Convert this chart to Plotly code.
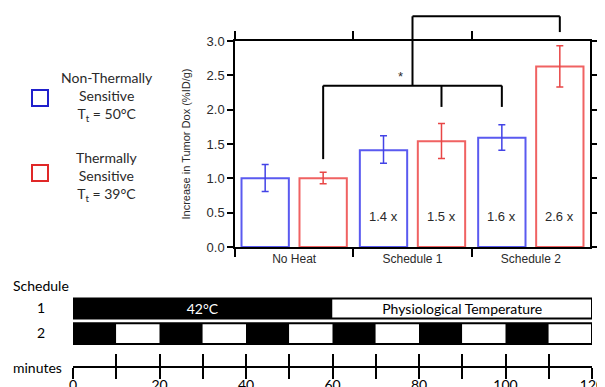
import plotly.graph_objects as go

# ---------------- data ----------------
categories = ["No Heat", "Schedule 1", "Schedule 2"]
nts_values = [1.00, 1.41, 1.59]      # Non-thermally sensitive (blue)
nts_upper = [1.20, 1.62, 1.78]
nts_lower = [0.81, 1.22, 1.41]
ts_values = [1.00, 1.54, 2.63]       # Thermally sensitive (red)
ts_upper = [1.09, 1.80, 2.93]
ts_lower = [0.92, 1.29, 2.33]
nts_fold = ["", "1.4 x", "1.6 x"]
ts_fold = ["", "1.5 x", "2.6 x"]
y_ticks = [0.0, 0.5, 1.0, 1.5, 2.0, 2.5, 3.0]

sched_rows = [2, 1]
sched_row_labels = ["1", "2"]
sched1_start = [0, 60]
sched1_end = [60, 120]
sched1_heated = [True, False]
sched1_text = ["42°C", "Physiological Temperature"]
sched2_start = [0, 10, 20, 30, 40, 50, 60, 70, 80, 90, 100, 110]
sched2_end = [10, 20, 30, 40, 50, 60, 70, 80, 90, 100, 110, 120]
sched2_heated = [True, False, True, False, True, False, True, False, True, False, True, False]
minute_ticks = [0, 10, 20, 30, 40, 50, 60, 70, 80, 90, 100, 110, 120]
minute_labels = ["0", "", "20", "", "40", "", "60", "", "80", "", "100", "", "120"]

# ---------------- styling helpers ----------------
# the page body has an 8px margin, so the figure is 8px smaller and all
# window-pixel positions are shifted by 8px
PAD = 8
W, H = 605 - PAD, 387 - PAD
def px(x):
    return (x - PAD) / W
def py(y):
    return 1 - (y - PAD) / H

BLUE = "#5a5af0"
BLUE_ERR = "#4343e6"
RED = "#f06262"
RED_ERR = "#e84646"
LEG_BLUE = "#2020cc"
LEG_RED = "#e02828"
ARIAL = "Arial, Liberation Sans, sans-serif"
CALIBRI = "Lato, Open Sans, sans-serif"
TXT = "#2a2a2a"

BAR_W = 0.40
OFF = 0.245  # half distance between bar centres in a group

fig = go.Figure()

# ---------------- main bars ----------------
fig.add_trace(go.Bar(
    x=categories, y=nts_values, width=BAR_W, offset=-OFF - BAR_W / 2,
    marker=dict(color="white", line=dict(color=BLUE, width=2)),
    error_y=dict(type="data", symmetric=False,
                 array=[u - v for u, v in zip(nts_upper, nts_values)],
                 arrayminus=[v - l for v, l in zip(nts_values, nts_lower)],
                 color=BLUE_ERR, thickness=1.5, width=3.5),
    xaxis="x", yaxis="y", showlegend=False, hoverinfo="skip"))
fig.add_trace(go.Bar(
    x=categories, y=ts_values, width=BAR_W, offset=OFF - BAR_W / 2,
    marker=dict(color="white", line=dict(color=RED, width=2)),
    error_y=dict(type="data", symmetric=False,
                 array=[u - v for u, v in zip(ts_upper, ts_values)],
                 arrayminus=[v - l for v, l in zip(ts_values, ts_lower)],
                 color=RED_ERR, thickness=1.5, width=3.5),
    xaxis="x", yaxis="y", showlegend=False, hoverinfo="skip"))

# overlay subplot (same scale, taller) for brackets and labels
Y_TOP_PX = 9
y2_max = 3.0 * (247 - Y_TOP_PX) / (247 - 41)
fig.add_trace(go.Scatter(x=[0], y=[0], mode="markers", marker=dict(opacity=0),
                         xaxis="x2", yaxis="y2", showlegend=False, hoverinfo="skip"))

# fold labels
for i, lab in enumerate(nts_fold):
    if lab:
        fig.add_annotation(x=i - OFF, y=0.45, xref="x2", yref="y2", text=lab,
                           showarrow=False, font=dict(family=ARIAL, size=13, color=TXT))
for i, lab in enumerate(ts_fold):
    if lab:
        fig.add_annotation(x=i + OFF, y=0.45, xref="x2", yref="y2", text=lab,
                           showarrow=False, font=dict(family=ARIAL, size=13, color=TXT))

# significance brackets
segs = [
    ((0 + OFF, 1.28), (0 + OFF, 2.35)),
    ((0 + OFF, 2.35), (2 - OFF, 2.35)),
    ((1 + OFF, 2.35), (1 + OFF, 2.04)),
    ((2 - OFF, 2.35), (2 - OFF, 2.04)),
    ((1.0, 2.35), (1.0, 3.36)),
    ((1.0, 3.36), (2 + OFF, 3.36)),
    ((2 + OFF, 3.36), (2 + OFF, 3.13)),
]
for (x0, y0), (x1, y1) in segs:
    fig.add_shape(type="line", xref="x2", yref="y2", x0=x0, y0=y0, x1=x1, y1=y1,
                  line=dict(color="black", width=2))
fig.add_annotation(x=0.9, y=2.48, xref="x2", yref="y2", text="*", showarrow=False,
                   font=dict(family=ARIAL, size=13, color=TXT))

# ---------------- schedule bars ----------------
fig.add_trace(go.Bar(
    y=[sched_rows[0]] * len(sched1_start),
    x=[e - s for s, e in zip(sched1_start, sched1_end)], base=sched1_start,
    orientation="h", width=0.8,
    marker=dict(color=["black" if h else "white" for h in sched1_heated], line=dict(width=0)),
    text=sched1_text, textposition="inside", insidetextanchor="middle",
    constraintext="none", textangle=0,
    textfont=dict(family=CALIBRI, size=14, color=["white" if h else "black" for h in sched1_heated]),
    xaxis="x3", yaxis="y3", showlegend=False, hoverinfo="skip"))
fig.add_trace(go.Bar(
    y=[sched_rows[1]] * len(sched2_start),
    x=[e - s for s, e in zip(sched2_start, sched2_end)], base=sched2_start,
    orientation="h", width=0.83,
    marker=dict(color=["black" if h else "white" for h in sched2_heated], line=dict(width=0)),
    xaxis="x3", yaxis="y3", showlegend=False, hoverinfo="skip"))
fig.add_trace(go.Bar(
    y=sched_rows, x=[sched1_end[-1] - sched1_start[0], sched2_end[-1] - sched2_start[0]],
    base=[sched1_start[0], sched2_start[0]], orientation="h", width=[0.8, 0.83],
    marker=dict(color="rgba(0,0,0,0)", line=dict(color="black", width=2)),
    xaxis="x3", yaxis="y3", showlegend=False, hoverinfo="skip"))
fig.add_trace(go.Scatter(x=[0], y=[0], mode="markers", marker=dict(opacity=0),
                         xaxis="x4", yaxis="y3", showlegend=False, hoverinfo="skip"))

# ---------------- layout ----------------
MIN_AX_Y = py(367)
fig.update_layout(
    width=W, height=H, autosize=False,
    margin=dict(l=0, r=0, t=0, b=0, autoexpand=False),
    paper_bgcolor="white", plot_bgcolor="rgba(0,0,0,0)",
    barmode="overlay", showlegend=False,
    xaxis=dict(domain=[px(235), px(590)], anchor="y", type="category", range=[-0.5, 2.5],
               showline=True, linecolor="black", linewidth=1.5, mirror="ticks",
               ticks="outside", tickson="boundaries", ticklen=8, tickwidth=1.5, tickcolor="black",
               showgrid=False, automargin=False, tickfont=dict(family=ARIAL, size=12, color=TXT)),
    yaxis=dict(domain=[py(247), py(41)], anchor="x", range=[0, 3.0],
               tickvals=y_ticks, tickformat=".1f",
               showline=True, linecolor="black", linewidth=1.5, mirror="ticks",
               ticks="outside", ticklen=6, tickwidth=1.5, tickcolor="black",
               showgrid=False, zeroline=False, automargin=False,
               tickfont=dict(family=ARIAL, size=13, color=TXT),
               title=dict(text="Increase in Tumor Dox (%ID/g)", standoff=14,
                          font=dict(family=ARIAL, size=11, color=TXT))),
    xaxis2=dict(domain=[px(235), px(590)], anchor="y2", range=[-0.5, 2.5], visible=False),
    yaxis2=dict(domain=[py(247), py(Y_TOP_PX)], anchor="x2", range=[0, y2_max], visible=False),
    # minutes axis: upward half of the ticks + labels
    xaxis3=dict(domain=[px(73), px(592)], anchor="free", position=MIN_AX_Y, range=[0, 120],
                showline=True, linecolor="black", linewidth=2,
                ticks="inside", ticklen=12, tickwidth=2, tickcolor="black",
                tickvals=minute_ticks, ticktext=minute_labels, ticklabelstandoff=5,
                showgrid=False, zeroline=False, automargin=False,
                tickfont=dict(family=CALIBRI, size=14, color="black")),
    # minutes axis: downward half of the ticks
    xaxis4=dict(domain=[px(73), px(592)], overlaying="x3", anchor="free", position=MIN_AX_Y,
                side="bottom", range=[0, 120], automargin=False,
                showline=False, ticks="outside", ticklen=11, tickwidth=2, tickcolor="black",
                tickvals=minute_ticks, showticklabels=False, showgrid=False, zeroline=False),
    yaxis3=dict(domain=[py(346), py(296)], anchor="x3", range=[0.5, 2.5],
                tickvals=sched_rows, ticktext=sched_row_labels, ticks="",
                ticklabelstandoff=27, showline=False, showgrid=False, zeroline=False,
                automargin=False,
                tickfont=dict(family=CALIBRI, size=14, color="black")),
)

# ---------------- legend & labels (paper) ----------------
fig.add_shape(type="rect", xref="paper", yref="paper", x0=px(32), x1=px(48), y0=py(106), y1=py(90),
              line=dict(color=LEG_BLUE, width=2), fillcolor="white")
fig.add_shape(type="rect", xref="paper", yref="paper", x0=px(32), x1=px(48), y0=py(181), y1=py(165),
              line=dict(color=LEG_RED, width=2), fillcolor="white")
fig.add_annotation(xref="paper", yref="paper", x=px(107), y=py(97), xanchor="center", yanchor="middle",
                   showarrow=False, align="center",
                   text="Non-Thermally<br>Sensitive<br>T<sub>t</sub> = 50°C",
                   font=dict(family=CALIBRI, size=14, color=TXT))
fig.add_annotation(xref="paper", yref="paper", x=px(107), y=py(176), xanchor="center", yanchor="middle",
                   showarrow=False, align="center",
                   text="Thermally<br>Sensitive<br>T<sub>t</sub> = 39°C",
                   font=dict(family=CALIBRI, size=14, color=TXT))
fig.add_annotation(xref="paper", yref="paper", x=px(11), y=py(285), xanchor="left", yanchor="middle",
                   showarrow=False, text="Schedule", font=dict(family=CALIBRI, size=14, color="black"))
fig.add_annotation(xref="paper", yref="paper", x=px(11), y=py(367), xanchor="left", yanchor="middle",
                   showarrow=False, text="minutes", font=dict(family=CALIBRI, size=14, color="black"))

fig.write_html("out.html")
